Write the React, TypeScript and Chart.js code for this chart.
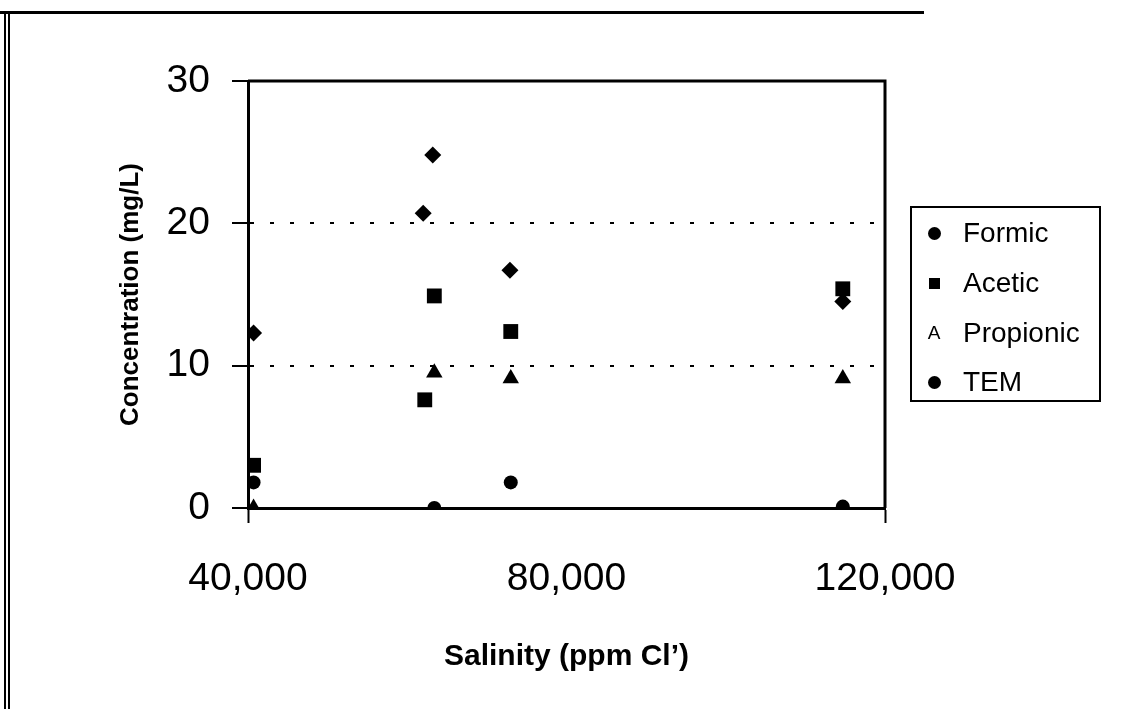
import React, { useEffect, useRef } from "react";
import { Chart, registerables } from "chart.js";

Chart.register(...registerables);

// ---- data ----
const formicX = [40700, 63400, 73000, 114700];
const formicY = [1.8, 0.0, 1.8, 0.1];
const aceticX = [40700, 62200, 63400, 73000, 114700];
const aceticY = [3.0, 7.6, 14.9, 12.4, 15.4];
const propionicX = [40700, 63400, 73000, 114700];
const propionicY = [0.0, 9.5, 9.1, 9.1];
const temX = [40700, 62000, 63200, 72900, 114700];
const temY = [12.3, 20.7, 24.8, 16.7, 14.5];

const xTicks = [40000, 80000, 120000];
const xTickMarks = [40000, 120000];
const yTicks = [0, 10, 20, 30];
const dottedLines = [10, 20];

const seriesNames = ["Formic", "Acetic", "Propionic", "TEM"];
const legendMarkers = ["circle", "square", "A", "circle"];

const xTitle = "Salinity (ppm Cl’)";
const yTitle = "Concentration (mg/L)";

const toPoints = (xs: number[], ys: number[]) => xs.map((x, i) => ({ x, y: ys[i] }));

const FONT = "'Liberation Sans', Arial, Helvetica, sans-serif";

const framePlugin = {
  id: "plotFrame",
  beforeDatasetsDraw(chart: any) {
    const { ctx, chartArea } = chart;
    ctx.save();
    ctx.strokeStyle = "#000";
    ctx.lineWidth = 3;
    ctx.beginPath();
    ctx.moveTo(chartArea.left, chartArea.top);
    ctx.lineTo(chartArea.right, chartArea.top);
    ctx.lineTo(chartArea.right, chartArea.bottom);
    ctx.stroke();
    ctx.restore();
  },
};

export default function App() {
  const ref = useRef<HTMLCanvasElement | null>(null);

  useEffect(() => {
    if (!ref.current) return;
    const common = {
      backgroundColor: "#000",
      borderColor: "#000",
      borderWidth: 0,
      showLine: false,
    };
    const chart = new Chart(ref.current, {
      type: "scatter",
      data: {
        datasets: [
          { ...common, label: seriesNames[0], data: toPoints(formicX, formicY), pointStyle: "circle", pointRadius: 7 },
          { ...common, label: seriesNames[1], data: toPoints(aceticX, aceticY), pointStyle: "rect", pointRadius: 10.5 },
          { ...common, label: seriesNames[2], data: toPoints(propionicX, propionicY), pointStyle: "triangle", pointRadius: 9.5 },
          { ...common, label: seriesNames[3], data: toPoints(temX, temY), pointStyle: "rectRot", pointRadius: 8.5 },
        ],
      },
      options: {
        animation: false,
        responsive: false,
        devicePixelRatio: 1,
        layout: { padding: { left: 115, top: 81, right: 247, bottom: 34 } },
        plugins: {
          legend: { display: false },
          tooltip: { enabled: false },
        },
        scales: {
          x: {
            type: "linear",
            min: xTicks[0],
            max: xTicks[xTicks.length - 1],
            afterBuildTicks: (s: any) => {
              s.ticks = xTicks.map((v) => ({ value: v }));
            },
            afterFit: (s: any) => {
              s.height = 167;
            },
            grid: {
              drawOnChartArea: false,
              drawTicks: true,
              tickLength: 15,
              tickColor: (c: any) =>
                c.tick && xTickMarks.includes(c.tick.value) ? "#000" : "rgba(0,0,0,0)",
              tickWidth: 2,
            },
            border: { display: true, color: "#000", width: 3 },
            ticks: {
              color: "#000",
              padding: 33,
              maxRotation: 0,
              font: { family: FONT, size: 39 },
              callback: (v: any) => Number(v).toLocaleString("en-US"),
            },
            title: {
              display: true,
              text: xTitle,
              color: "#000",
              padding: { top: 0, bottom: 0 },
              font: { family: FONT, size: 30, weight: "bold" },
            },
          },
          y: {
            type: "linear",
            min: yTicks[0],
            max: yTicks[yTicks.length - 1],
            afterBuildTicks: (s: any) => {
              s.ticks = yTicks.map((v) => ({ value: v }));
            },
            afterFit: (s: any) => {
              s.width = 133;
            },
            grid: {
              drawOnChartArea: true,
              drawTicks: true,
              tickLength: 16,
              tickColor: "#000",
              tickWidth: 2,
              lineWidth: 2,
              color: (c: any) =>
                c.tick && dottedLines.includes(c.tick.value) ? "#000" : "rgba(0,0,0,0)",
            },
            border: { display: true, color: "#000", width: 3, dash: [4, 16] },
            ticks: {
              color: "#000",
              padding: 22,
              font: { family: FONT, size: 39 },
            },
            title: {
              display: true,
              text: yTitle,
              color: "#000",
              padding: { top: 0, bottom: 0 },
              font: { family: FONT, size: 26, weight: "bold" },
            },
          },
        },
      },
      plugins: [framePlugin],
    } as any);
    return () => chart.destroy();
  }, []);

  const rowCenters = [25, 75, 125, 174];

  return (
    <div style={{ position: "fixed", left: 0, top: 0, width: 1132, height: 709, background: "#fff", overflow: "hidden" }}>
      {/* page frame */}
      <div style={{ position: "absolute", left: 0, top: 11, width: 924, height: 3, background: "#000" }} />
      <div style={{ position: "absolute", left: 4, top: 11, width: 2, height: 698, background: "#000" }} />
      <div style={{ position: "absolute", left: 8, top: 14, width: 2, height: 695, background: "#000" }} />
      <canvas ref={ref} width={1132} height={709} style={{ position: "absolute", left: 0, top: 0 }} />
      {/* legend */}
      <div
        style={{
          position: "absolute",
          left: 910,
          top: 206,
          width: 191,
          height: 196,
          border: "2px solid #000",
          boxSizing: "border-box",
          fontFamily: FONT,
          color: "#000",
        }}
      >
        {seriesNames.map((name, i) => (
          <div
            key={name}
            style={{
              position: "absolute",
              left: 0,
              top: rowCenters[i] - 25,
              height: 50,
              width: 185,
              display: "flex",
              alignItems: "center",
            }}
          >
            <div style={{ width: 44, display: "flex", justifyContent: "center", alignItems: "center" }}>
              {legendMarkers[i] === "circle" ? (
                <div style={{ width: 13, height: 13, borderRadius: "50%", background: "#000" }} />
              ) : legendMarkers[i] === "square" ? (
                <div style={{ width: 11, height: 11, background: "#000" }} />
              ) : (
                <span style={{ fontSize: 19, lineHeight: "20px" }}>{legendMarkers[i]}</span>
              )}
            </div>
            <span style={{ fontSize: 28, lineHeight: "32px", marginLeft: 7 }}>{name}</span>
          </div>
        ))}
      </div>
    </div>
  );
}
